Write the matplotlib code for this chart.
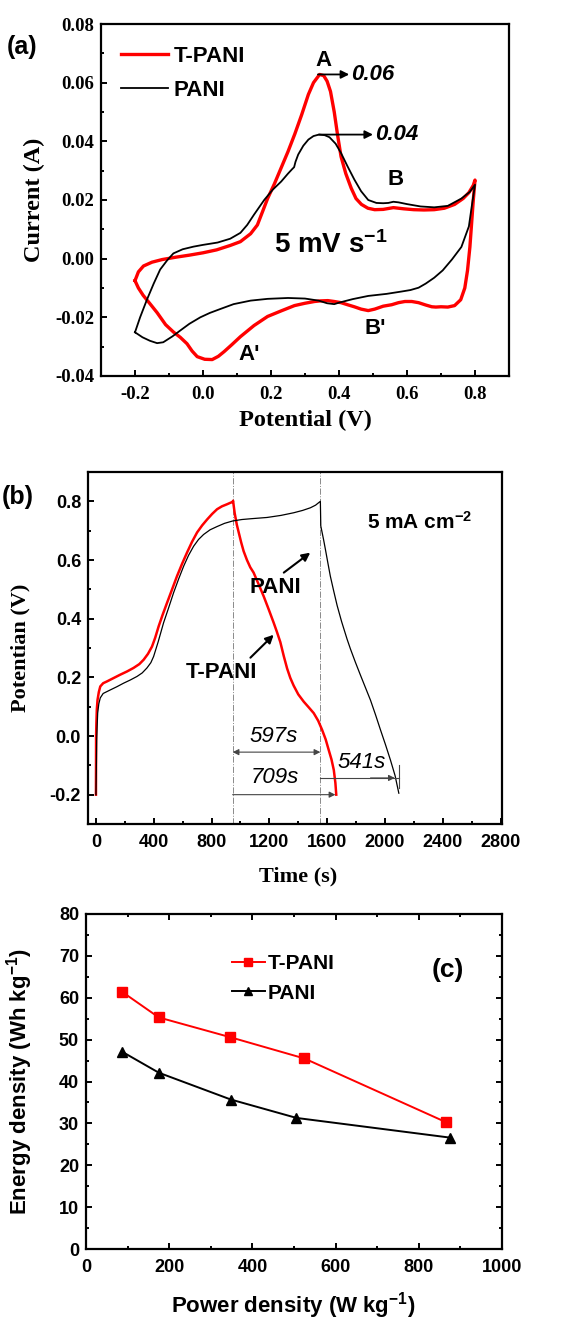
import numpy as np
import matplotlib.pyplot as plt
from matplotlib.ticker import MultipleLocator

plt.rcParams['mathtext.default'] = 'regular'

SERIF = 'Liberation Serif'
SANS = 'Liberation Sans'

# (a) cyclic voltammograms at 5 mV/s (closed loops)
cv_tpani_v = [-0.200, -0.190, -0.175, -0.150, -0.120, -0.080, -0.040, 0.000, 0.040, 0.080,
              0.110, 0.140, 0.160, 0.175, 0.190, 0.210, 0.230, 0.250, 0.270, 0.290,
              0.310, 0.325, 0.343, 0.355, 0.365, 0.375, 0.386, 0.396, 0.406, 0.420,
              0.436, 0.450, 0.466, 0.485, 0.505, 0.530, 0.560, 0.590, 0.620, 0.650,
              0.680, 0.710, 0.740, 0.765, 0.782, 0.795, 0.800,
              0.795, 0.790, 0.785, 0.778, 0.770, 0.758, 0.740, 0.720, 0.700, 0.685,
              0.673, 0.655, 0.634, 0.614, 0.594, 0.575, 0.555, 0.530, 0.505, 0.486,
              0.465, 0.445, 0.425, 0.406, 0.386, 0.367, 0.345, 0.328, 0.300, 0.269,
              0.230, 0.190, 0.150, 0.110, 0.085, 0.062, 0.045, 0.027, 0.005, -0.017,
              -0.032, -0.047, -0.067, -0.087, -0.110, -0.135, -0.155, -0.176, -0.190, -0.200]
cv_tpani_i = [-0.0075, -0.0045, -0.0025, -0.0012, -0.0003, 0.0005, 0.0012, 0.0020, 0.0030, 0.0045,
              0.0058, 0.0085, 0.0115, 0.0160, 0.0205, 0.0255, 0.0310, 0.0365, 0.0425, 0.0490,
              0.0560, 0.0600, 0.0628, 0.0624, 0.0605, 0.0570, 0.0500, 0.0420, 0.0348, 0.0290,
              0.0240, 0.0205, 0.0185, 0.0172, 0.0167, 0.0168, 0.0174, 0.0170, 0.0167, 0.0166,
              0.0167, 0.0172, 0.0185, 0.0205, 0.0225, 0.0250, 0.0268,
              0.0200, 0.0120, 0.0040, -0.0040, -0.0100, -0.0140, -0.0160, -0.0165, -0.0164, -0.0165,
              -0.0164, -0.0158, -0.0150, -0.0146, -0.0146, -0.0150, -0.0157, -0.0162, -0.0172, -0.0177,
              -0.0172, -0.0164, -0.0157, -0.0150, -0.0146, -0.0143, -0.0144, -0.0146, -0.0152, -0.0160,
              -0.0178, -0.0197, -0.0228, -0.0266, -0.0293, -0.0317, -0.0333, -0.0344, -0.0343, -0.0334,
              -0.0315, -0.0290, -0.0268, -0.0250, -0.0225, -0.0184, -0.0155, -0.0125, -0.0100, -0.0075]
cv_pani_v = [-0.200, -0.185, -0.165, -0.145, -0.126, -0.105, -0.087, -0.060, -0.028, 0.000,
             0.043, 0.080, 0.110, 0.130, 0.150, 0.180, 0.205, 0.230, 0.250, 0.262,
             0.268, 0.272, 0.280, 0.295, 0.310, 0.325, 0.341, 0.358, 0.372, 0.390,
             0.406, 0.425, 0.445, 0.465, 0.486, 0.510, 0.530, 0.545, 0.560, 0.575,
             0.600, 0.640, 0.680, 0.720, 0.760, 0.785, 0.800,
             0.790, 0.782, 0.760, 0.732, 0.705, 0.680, 0.655, 0.634, 0.610, 0.584,
             0.540, 0.486, 0.440, 0.400, 0.386, 0.365, 0.340, 0.300, 0.250, 0.190,
             0.140, 0.090, 0.050, 0.020, -0.008, -0.040, -0.067, -0.090, -0.117, -0.135,
             -0.156, -0.178, -0.200]
cv_pani_i = [-0.0251, -0.0200, -0.0140, -0.0085, -0.0037, -0.0005, 0.0018, 0.0032, 0.0041, 0.0047,
             0.0055, 0.0068, 0.0088, 0.0115, 0.0150, 0.0200, 0.0235, 0.0263, 0.0290, 0.0305,
             0.0312, 0.0330, 0.0355, 0.0385, 0.0406, 0.0418, 0.0423, 0.0421, 0.0414, 0.0392,
             0.0360, 0.0315, 0.0270, 0.0230, 0.0200, 0.0190, 0.0189, 0.0190, 0.0194, 0.0192,
             0.0186, 0.0178, 0.0175, 0.0180, 0.0205, 0.0228, 0.0252,
             0.0175, 0.0110, 0.0040, -0.0003, -0.0040, -0.0065, -0.0085, -0.0099, -0.0107, -0.0112,
             -0.0120, -0.0127, -0.0138, -0.0150, -0.0155, -0.0152, -0.0143, -0.0136, -0.0134, -0.0137,
             -0.0143, -0.0155, -0.0172, -0.0185, -0.0200, -0.0222, -0.0245, -0.0265, -0.0285, -0.0288,
             -0.0280, -0.0268, -0.0251]

# (b) galvanostatic charge/discharge at 5 mA cm-2
gcd_tpani_t = [0, 1, 3, 6, 11, 20, 30, 50, 76, 120, 168, 215, 260, 300, 330, 360, 388, 410,
               434, 462, 492, 527, 561, 596, 630, 665, 700, 735, 769, 804, 838, 872, 907, 930,
               946, 949, 952, 960, 975, 988, 1005, 1022, 1045, 1068, 1091, 1126, 1161, 1196,
               1230, 1253, 1276, 1300, 1323, 1345, 1368, 1400, 1438, 1472, 1507, 1538, 1565,
               1590, 1611, 1630, 1646, 1657, 1663]
gcd_tpani_v = [-0.200, 0.000, 0.044, 0.090, 0.123, 0.150, 0.169, 0.180, 0.186, 0.197, 0.209,
               0.220, 0.232, 0.245, 0.260, 0.280, 0.305, 0.335, 0.374, 0.414, 0.454, 0.500,
               0.545, 0.587, 0.625, 0.662, 0.694, 0.718, 0.738, 0.757, 0.773, 0.783, 0.790,
               0.795, 0.798, 0.802, 0.790, 0.760, 0.720, 0.694, 0.660, 0.630, 0.600, 0.575,
               0.557, 0.517, 0.476, 0.431, 0.386, 0.354, 0.320, 0.272, 0.230, 0.198, 0.172,
               0.142, 0.117, 0.098, 0.078, 0.052, 0.021, -0.012, -0.048, -0.080, -0.116,
               -0.160, -0.200]
gcd_pani_t = [0, 3, 5, 8, 12, 20, 30, 50, 99, 145, 191, 238, 284, 320, 353, 380, 399, 430,
              468, 503, 537, 572, 607, 641, 676, 710, 745, 790, 838, 890, 946, 1010, 1080,
              1184, 1280, 1368, 1430, 1484, 1520, 1553, 1556, 1575, 1588, 1605, 1622, 1645,
              1669, 1700, 1738, 1761, 1795, 1830, 1865, 1900, 1935, 1969, 2004, 2038, 2070, 2096]
gcd_pani_v = [-0.200, -0.100, -0.014, 0.030, 0.078, 0.110, 0.130, 0.145, 0.157, 0.168, 0.180,
              0.191, 0.203, 0.215, 0.232, 0.250, 0.271, 0.320, 0.386, 0.437, 0.488, 0.535,
              0.579, 0.616, 0.647, 0.670, 0.687, 0.703, 0.714, 0.725, 0.733, 0.738, 0.741,
              0.745, 0.752, 0.761, 0.769, 0.778, 0.787, 0.800, 0.716, 0.670, 0.636, 0.590,
              0.545, 0.495, 0.445, 0.390, 0.330, 0.297, 0.252, 0.208, 0.165, 0.122, 0.072,
              0.021, -0.030, -0.082, -0.135, -0.195]
t_switch = [946, 1553]          # end of charge for T-PANI / PANI (dash-dot guides)
t_discharge_end = [1657, 2096]  # end of discharge for T-PANI / PANI

# (c) Ragone plot
power_tpani = [87, 175, 346, 525, 865]
energy_tpani = [61.4, 55.3, 50.6, 45.5, 30.3]
power_pani = [87, 175, 348, 506, 875]
energy_pani = [47.1, 42.1, 35.7, 31.3, 26.6]

RED = '#ff0000'
W, H = 568, 1320
fig = plt.figure(figsize=(W / 100, H / 100), dpi=100)


def px_axes(left, top, right, bottom):
    return fig.add_axes([left / W, 1 - bottom / H, (right - left) / W, (bottom - top) / H])


def style_axes(ax, tick_family, all_sides=False):
    for s in ax.spines.values():
        s.set_linewidth(1.6)
    ax.tick_params(which='both', direction='in', width=1.4,
                   top=all_sides, right=all_sides)
    ax.tick_params(which='major', length=4.5)
    ax.tick_params(which='minor', length=2.5)
    ax.tick_params(axis='x', pad=7)
    ax.tick_params(axis='y', pad=5)
    for lab in ax.get_xticklabels() + ax.get_yticklabels():
        lab.set_fontfamily(tick_family)
        lab.set_fontweight('bold')


# ---------------- (a) ----------------
ax1 = px_axes(101, 24, 509, 376)
ax1.plot(cv_tpani_v, cv_tpani_i, color=RED, lw=2.4, label='T-PANI')
ax1.plot(cv_pani_v, cv_pani_i, color='black', lw=1.3, label='PANI')
ax1.set_xlim(-0.3, 0.9)
ax1.set_ylim(-0.04, 0.08)
ax1.xaxis.set_minor_locator(MultipleLocator(0.1))
ax1.yaxis.set_major_locator(MultipleLocator(0.02))
ax1.yaxis.set_minor_locator(MultipleLocator(0.01))
ax1.set_xticks(np.arange(-0.2, 0.81, 0.2))
ax1.set_xticklabels([f'{v:.1f}' for v in np.arange(-0.2, 0.81, 0.2)])
ax1.set_yticks(np.arange(-0.04, 0.081, 0.02))
ax1.set_yticklabels([f'{v:.2f}' for v in np.arange(-0.04, 0.081, 0.02)])
for lab in ax1.get_xticklabels() + ax1.get_yticklabels():
    lab.set_fontsize(13.5)
style_axes(ax1, SERIF)
ax1.set_xlabel('Potential (V)', family=SERIF, weight='bold', fontsize=17.5)
ax1.set_ylabel('Current (A)', family=SERIF, weight='bold', fontsize=17.5)
ax1.xaxis.set_label_coords(0.5, -0.097)
ax1.yaxis.set_label_coords(-0.137, 0.5)
ax1.legend(loc='upper left', bbox_to_anchor=(0.012, 0.982), frameon=False,
           prop={'family': SANS, 'weight': 'bold', 'size': 16},
           handlelength=2.1, handletextpad=0.25, labelspacing=0.6, borderaxespad=0.3)
lab_kw = dict(family=SANS, weight='bold', fontsize=16, ha='center', va='center')
ax1.text(0.353, 0.0675, 'A', **lab_kw)
ax1.text(0.565, 0.027, 'B', **lab_kw)
ax1.text(0.135, -0.0328, "A'", **lab_kw)
ax1.text(0.505, -0.0237, "B'", **lab_kw)
arr_kw = dict(arrowstyle='-|>', color='black', lw=1.3, mutation_scale=12, shrinkA=0, shrinkB=0)
ax1.annotate('', xy=(0.43, 0.0628), xytext=(0.338, 0.0628), arrowprops=arr_kw)
ax1.annotate('', xy=(0.50, 0.0423), xytext=(0.341, 0.0423), arrowprops=arr_kw)
ax1.text(0.435, 0.0628, '0.06', family=SANS, weight='bold', style='italic', fontsize=16,
         ha='left', va='center')
ax1.text(0.505, 0.0423, '0.04', family=SANS, weight='bold', style='italic', fontsize=16,
         ha='left', va='center')
ax1.text(0.375, 0.0045, '5 mV s$^{-1}$', family=SANS, weight='bold', fontsize=20,
         ha='center', va='center')
fig.text(7 / W, 1 - 47 / H, '(a)', family=SANS, weight='bold', fontsize=18, va='center')

# ---------------- (b) ----------------
ax2 = px_axes(88, 472, 502, 824)
for t in t_switch:
    ax2.axvline(t, color='#8a8a8a', lw=0.7, ls='-.')
ax2.plot(gcd_tpani_t, gcd_tpani_v, color=RED, lw=1.8)
ax2.plot(gcd_pani_t, gcd_pani_v, color='black', lw=0.9)
ax2.set_xlim(-55, 2810)
ax2.set_ylim(-0.3, 0.9)
ax2.set_xticks(np.arange(0, 2801, 400))
ax2.xaxis.set_minor_locator(MultipleLocator(200))
ax2.set_yticks(np.arange(-0.2, 0.81, 0.2))
ax2.set_yticklabels([f'{v:.1f}' for v in np.arange(-0.2, 0.81, 0.2)])
ax2.yaxis.set_minor_locator(MultipleLocator(0.1))
for lab in ax2.get_xticklabels() + ax2.get_yticklabels():
    lab.set_fontsize(13)
style_axes(ax2, SANS)
ax2.set_xlabel('Time (s)', family=SERIF, weight='bold', fontsize=16)
ax2.set_ylabel('Potentian (V)', family=SERIF, weight='bold', fontsize=16)
ax2.xaxis.set_label_coords(0.507, -0.122)
ax2.yaxis.set_label_coords(-0.14, 0.5)
ax2.text(1879, 0.73, '5 mA cm$^{-2}$', family=SANS, weight='bold', fontsize=15,
         ha='left', va='center')
ax2.text(1242, 0.505, 'PANI', family=SANS, weight='bold', fontsize=16, ha='center', va='center')
ax2.text(867, 0.215, 'T-PANI', family=SANS, weight='bold', fontsize=16, ha='center', va='center')
ax2.annotate('', xy=(1483, 0.625), xytext=(1300, 0.557),
             arrowprops=dict(arrowstyle='-|>', color='black', lw=1.5, mutation_scale=12,
                             shrinkA=0, shrinkB=0))
ax2.annotate('', xy=(1230, 0.345), xytext=(1069, 0.267),
             arrowprops=dict(arrowstyle='-|>', color='black', lw=1.5, mutation_scale=12,
                             shrinkA=0, shrinkB=0))
thin = dict(color='#444444', lw=0.8, mutation_scale=9, shrinkA=0, shrinkB=0)
ax2.annotate('', xy=(t_switch[1], -0.055), xytext=(t_switch[0], -0.055),
             arrowprops=dict(arrowstyle='<|-|>', **thin))
ax2.annotate('', xy=(t_discharge_end[0], -0.2), xytext=(t_switch[0], -0.2),
             arrowprops=dict(arrowstyle='-|>', **thin))
ax2.plot([t_switch[1], t_discharge_end[1]], [-0.143, -0.143], color='#444444', lw=0.8)
ax2.annotate('', xy=(2068, -0.143), xytext=(1900, -0.143),
             arrowprops=dict(arrowstyle='-|>', **thin))
ax2.plot([t_discharge_end[1], t_discharge_end[1]], [-0.1, -0.178], color='#444444', lw=0.8)
it_kw = dict(family=SANS, style='italic', fontsize=16, ha='center', va='center')
ax2.text(1230, -0.003, '597s', **it_kw)
ax2.text(1235, -0.14, '709s', **it_kw)
ax2.text(1837, -0.089, '541s', **it_kw)
fig.text(2 / W, 1 - 497 / H, '(b)', family=SANS, weight='bold', fontsize=18, va='center')

# ---------------- (c) ----------------
ax3 = px_axes(86, 914, 502, 1249)
ax3.plot(power_tpani, energy_tpani, color=RED, lw=1.4, marker='s', ms=7, label='T-PANI')
ax3.plot(power_pani, energy_pani, color='black', lw=1.4, marker='^', ms=7.5, label='PANI')
ax3.set_xlim(0, 1000)
ax3.set_ylim(0, 80)
ax3.xaxis.set_major_locator(MultipleLocator(200))
ax3.xaxis.set_minor_locator(MultipleLocator(100))
ax3.yaxis.set_major_locator(MultipleLocator(10))
ax3.yaxis.set_minor_locator(MultipleLocator(5))
for lab in ax3.get_xticklabels() + ax3.get_yticklabels():
    lab.set_fontsize(13)
style_axes(ax3, SANS, all_sides=True)
ax3.set_xlabel('Power density (W kg$^{-1}$)', family=SANS, weight='bold', fontsize=16)
ax3.set_ylabel('Energy density (Wh kg$^{-1}$)', family=SANS, weight='bold', fontsize=16)
ax3.xaxis.set_label_coords(0.498, -0.122)
ax3.yaxis.set_label_coords(-0.123, 0.5)
ax3.legend(loc='upper left', bbox_to_anchor=(0.33, 0.905), frameon=False,
           prop={'family': SANS, 'weight': 'bold', 'size': 15},
           handlelength=1.6, handletextpad=0.15, labelspacing=0.5, borderaxespad=0.0,
           markerscale=0.85)
ax3.text(870, 66.6, '(c)', family=SANS, weight='bold', fontsize=19, ha='center', va='center')

fig.savefig('out.png', dpi=100)
